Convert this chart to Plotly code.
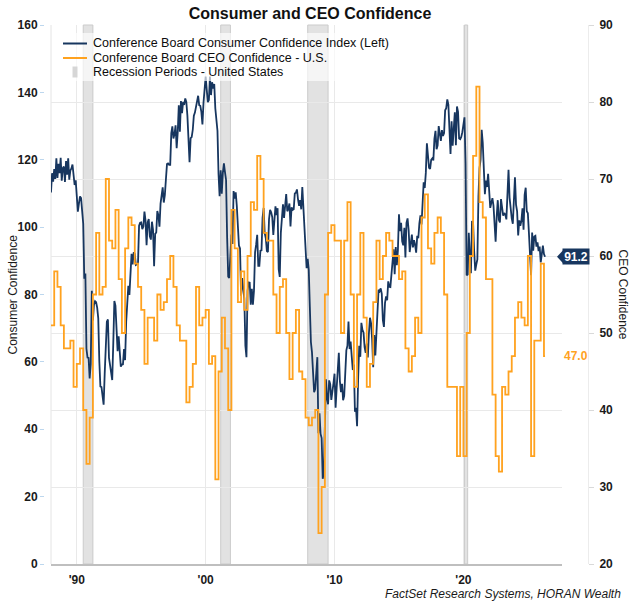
import plotly.graph_objects as go

# ---------------- data ----------------
cc_start_year = 1988  # monthly series starts Jan 1988
consumer_confidence = [
    110.3, 116.0, 113.5, 117.2, 114.3, 120.4, 114.6, 118.8, 116.0, 120.6, 113.8, 117.5,  # 1988
    118.0, 113.4, 119.6, 115.6, 120.4, 114.1, 116.8, 117.4, 118.6, 115.5, 112.5, 113.9,  # 1989
    106.8, 104.6, 107.0, 109.1, 108.6, 102.8, 101.0, 84.7, 86.2, 63.9, 61.3, 61.2,        # 1990
    55.1, 59.4, 81.1, 72.3, 77.0, 78.0, 77.7, 76.1, 72.9, 60.1, 52.7, 52.5,              # 1991
    50.2, 47.3, 56.5, 65.1, 71.9, 72.6, 61.2, 59.0, 57.3, 54.6, 65.6, 78.1,              # 1992
    76.7, 68.5, 63.2, 67.6, 61.9, 58.6, 59.2, 59.3, 63.8, 60.5, 71.9, 79.8,              # 1993
    82.6, 79.9, 86.7, 92.1, 88.9, 92.5, 92.1, 88.8, 89.0, 89.1, 100.4, 101.3,            # 1994
    101.4, 99.4, 100.2, 104.6, 102.0, 94.6, 101.4, 102.4, 97.3, 96.3, 101.6, 99.2,       # 1995
    88.4, 98.0, 98.4, 104.8, 103.5, 100.1, 107.0, 109.4, 111.8, 107.3, 109.5, 114.2,     # 1996
    118.7, 118.9, 118.5, 118.5, 127.9, 129.9, 126.3, 127.6, 130.2, 123.4, 128.1, 136.2,  # 1997
    128.3, 137.4, 133.8, 137.2, 136.3, 138.2, 137.2, 133.1, 126.4, 119.3, 126.4, 126.7,  # 1998
    128.9, 133.1, 134.0, 135.5, 137.7, 139.0, 136.2, 136.0, 134.2, 130.5, 137.0, 141.7,  # 1999
    144.7, 140.8, 137.1, 137.7, 144.7, 139.2, 143.0, 141.1, 142.5, 135.2, 132.6, 128.6,  # 2000
    115.7, 109.2, 116.9, 109.9, 116.1, 118.9, 116.3, 114.0, 97.0, 85.3, 84.9, 94.6,      # 2001
    97.8, 95.0, 110.7, 108.5, 110.3, 106.3, 97.4, 94.5, 93.7, 79.6, 84.9, 80.7,          # 2002
    78.8, 64.8, 61.4, 81.0, 83.6, 83.5, 77.0, 81.7, 77.0, 81.1, 92.5, 94.8,              # 2003
    97.7, 88.5, 88.5, 93.0, 93.1, 102.8, 105.7, 98.2, 96.7, 92.9, 92.6, 102.3,           # 2004
    105.1, 104.4, 103.0, 97.7, 103.1, 106.2, 103.6, 105.6, 87.5, 85.2, 98.3, 103.6,      # 2005
    106.8, 102.7, 107.2, 109.8, 104.7, 105.4, 107.0, 100.2, 105.9, 105.1, 105.3, 110.0,  # 2006
    110.2, 111.2, 108.2, 106.3, 108.0, 105.3, 111.9, 105.6, 99.5, 95.2, 87.8, 90.6,      # 2007
    87.3, 76.4, 65.9, 62.8, 58.1, 51.0, 51.9, 58.5, 61.4, 38.8, 44.7, 38.6,              # 2008
    37.4, 25.3, 26.9, 40.8, 54.8, 49.3, 47.4, 54.5, 53.4, 48.7, 50.6, 53.6,              # 2009
    56.5, 46.4, 52.3, 57.7, 62.7, 54.3, 51.0, 53.5, 48.6, 49.9, 57.8, 63.4,              # 2010
    64.8, 72.0, 63.8, 66.0, 61.7, 57.6, 59.2, 45.2, 46.4, 40.9, 55.2, 64.8,              # 2011
    61.5, 71.6, 69.5, 68.7, 64.4, 62.7, 65.4, 61.3, 68.4, 73.1, 71.5, 66.7,              # 2012
    58.4, 68.0, 61.9, 68.1, 76.2, 81.4, 81.0, 81.8, 80.2, 72.4, 70.4, 77.5,              # 2013
    79.4, 78.3, 83.9, 82.3, 82.2, 86.4, 90.3, 93.4, 86.0, 94.1, 88.7, 93.1,              # 2014
    103.8, 98.8, 101.3, 95.8, 94.6, 99.8, 91.0, 101.3, 102.6, 99.1, 92.6, 96.3,          # 2015
    97.8, 94.0, 96.1, 94.7, 92.4, 97.4, 96.7, 101.1, 103.5, 100.8, 109.4, 113.3,         # 2016
    111.6, 116.1, 124.9, 119.4, 117.6, 117.3, 120.0, 120.4, 119.8, 126.2, 128.6, 123.1,  # 2017
    124.3, 130.0, 127.0, 125.6, 128.8, 127.1, 127.9, 134.7, 135.3, 137.9, 136.4, 126.6,  # 2018
    121.7, 131.4, 124.2, 129.2, 134.1, 124.3, 135.8, 134.2, 126.3, 126.1, 126.8, 128.2,  # 2019
    130.4, 132.6, 118.8, 85.7, 85.9, 98.3, 91.7, 86.3, 101.8, 101.4, 92.9, 87.1,         # 2020
    88.9, 90.4, 109.0, 117.5, 120.0, 128.9, 125.1, 115.2, 109.8, 113.8, 111.9, 115.8,    # 2021
    111.1, 105.7, 107.2, 108.6, 106.4, 98.4, 95.7, 103.2, 108.0, 102.2, 101.4, 108.3,    # 2022
    106.0, 103.4, 104.2, 103.7, 102.3, 110.1, 117.0, 108.7, 104.3, 102.6, 101.0, 108.0,  # 2023
    114.8, 106.7, 104.7, 97.5, 102.0, 100.4, 101.9, 105.6, 99.2, 109.6, 111.7, 104.7,    # 2024
    104.1, 98.3, 92.9, 85.7, 98.4, 93.0, 97.2, 97.4, 94.2, 95.5, 92.9, 94.2,             # 2025
    89.5, 91.5, 94.5, 92.0, 91.2,                                                         # 2026
]

ceo_start_year = 1988  # quarterly series starts 1988 Q1
ceo_confidence = [
    51, 58, 56, 51,  48, 48, 49, 43,  46, 48, 40, 33,  39, 55, 63, 55,   # 1988-1991
    56, 70, 62, 61,  66, 57, 50, 61,  65, 64, 59, 56,  53, 46, 52, 52,   # 1992-1995
    49, 55, 53, 54,  57, 60, 56, 51,  49, 49, 41, 43,  46, 56, 51, 52,   # 1996-1999
    53, 46, 47, 31,  45, 52, 48, 40,  66, 61, 54, 58,  53, 60, 67, 66,   # 2000-2003
    73, 70, 63, 62,  62, 55, 50, 56,  57, 50, 44, 50,  53, 45, 44, 39,   # 2004-2007
    38, 39, 40, 24,  30, 55, 63, 64,  62, 62, 50, 62,  67, 55, 43, 55,   # 2008-2011
    63, 52, 43, 46,  54, 62, 57, 60,  63, 62, 60, 60,  57, 58, 48, 45,   # 2012-2015
    47, 52, 50, 65,  68, 61, 59, 63,  65, 63, 55, 43,  43, 43, 34, 43,   # 2016-2019
    34, 50, 60, 73,  82, 67, 65, 57,  57, 42, 34, 32,  43, 42, 45, 47,   # 2020-2023
    52, 54, 52, 51,  60, 34, 49, 49,  59, 47.0,                          # 2024-2026
]

recession_start = [1990.5, 2001.17, 2007.92, 2020.08]
recession_end = [1991.25, 2001.92, 2009.5, 2020.33]

xtick_vals = [1990, 2000, 2010, 2020]
xtick_text = ["'90", "'00", "'10", "'20"]
left_ticks = list(range(0, 161, 20))
right_ticks = list(range(20, 91, 10))

series_names = [
    "Conference Board Consumer Confidence Index (Left)",
    "Conference Board CEO Confidence - U.S.",
    "Recession Periods - United States",
]
title_text = "Consumer and CEO Confidence"
source_text = "FactSet Research Systems, HORAN Wealth"

# ---------------- styling ----------------
NAVY = "#17365f"
ORANGE = "#ffa21f"
BAND = "#e2e2e2"
GRID = "#e9e9e9"
TXT = "#1a1a1a"
FONT = "Liberation Sans"

W, H = 632, 608
ML, MR, MT, MB = 44, 44, 25, 44
PW = W - ML - MR
PH = H - MT - MB


def px_x(px):
    return (px - ML) / PW


def px_y(py):
    return (H - MB - py) / PH


cc_x = [cc_start_year + i / 12 for i in range(len(consumer_confidence))]
ceo_x = [ceo_start_year + i / 4 for i in range(len(ceo_confidence))]
# extend the last quarterly value to the end of the monthly series
ceo_x_plot = ceo_x + [cc_x[-1]]
ceo_y_plot = ceo_confidence + [ceo_confidence[-1]]

fig = go.Figure()
fig.add_trace(go.Scatter(
    x=cc_x, y=consumer_confidence, mode="lines", name=series_names[0],
    line=dict(color=NAVY, width=1.8), yaxis="y", showlegend=False,
))
fig.add_trace(go.Scatter(
    x=ceo_x_plot, y=ceo_y_plot, mode="lines", name=series_names[1],
    line=dict(color=ORANGE, width=1.8, shape="hv"), yaxis="y2", showlegend=False,
))

shapes = []
for s, e in zip(recession_start, recession_end):
    shapes.append(dict(type="rect", xref="x", yref="y domain", x0=s, x1=e, y0=0, y1=1,
                       fillcolor=BAND, line=dict(color="#cbcbcb", width=1), layer="below"))
# left plot border
shapes.append(dict(type="line", xref="x domain", yref="y domain", x0=0, x1=0, y0=0, y1=1,
                   line=dict(color="#e4e4e4", width=1), layer="below"))

# custom legend (background + symbols)
shapes.append(dict(type="rect", xref="paper", yref="paper", x0=px_x(58), x1=px_x(394),
                   y0=px_y(81), y1=px_y(33), fillcolor="rgba(255,255,255,0.65)",
                   line=dict(width=0), layer="above"))
shapes.append(dict(type="line", xref="paper", yref="paper", x0=px_x(63), x1=px_x(87),
                   y0=px_y(43.5), y1=px_y(43.5), line=dict(color=NAVY, width=2), layer="above"))
shapes.append(dict(type="line", xref="paper", yref="paper", x0=px_x(63), x1=px_x(87),
                   y0=px_y(58), y1=px_y(58), line=dict(color=ORANGE, width=2), layer="above"))
shapes.append(dict(type="rect", xref="paper", yref="paper", x0=px_x(72.5), x1=px_x(77.5),
                   y0=px_y(77.5), y1=px_y(66.5), fillcolor="#d6d6d6", line=dict(width=0),
                   layer="above"))

# end-value tag arrow for consumer confidence
shapes.append(dict(type="path", xref="paper", yref="y", xsizemode="pixel", ysizemode="pixel",
                   xanchor=px_x(564), yanchor=consumer_confidence[-1],
                   path="M 0 -7.5 L -7 0 L 0 7.5 Z", fillcolor=NAVY, line=dict(width=0),
                   layer="above"))

annotations = []
for i, (name, yy) in enumerate(zip(series_names, [43.5, 58, 72])):
    annotations.append(dict(text=name, xref="paper", yref="paper", x=px_x(91), y=px_y(yy),
                            xanchor="left", yanchor="middle", showarrow=False,
                            font=dict(family=FONT, size=12.5, color="#0d0d0d")))

annotations.append(dict(text="<b>%.1f</b>" % consumer_confidence[-1], xref="paper", yref="y",
                        x=px_x(576), y=consumer_confidence[-1], xanchor="center",
                        yanchor="middle", showarrow=False, bgcolor=NAVY, width=24, height=13,
                        borderpad=1, font=dict(family=FONT, size=12, color="white")))
annotations.append(dict(text="<b>%.1f</b>" % ceo_confidence[-1], xref="paper", yref="y2",
                        x=px_x(576), y=ceo_confidence[-1], xanchor="center",
                        yanchor="middle", showarrow=False,
                        font=dict(family=FONT, size=12, color=ORANGE)))
annotations.append(dict(text="Consumer Confidence", xref="paper", yref="paper",
                        x=px_x(12), y=0.5, textangle=-90, xanchor="center", yanchor="middle",
                        showarrow=False, font=dict(family=FONT, size=12, color=TXT)))
annotations.append(dict(text="CEO Confidence", xref="paper", yref="paper",
                        x=px_x(623), y=0.5, textangle=90, xanchor="center", yanchor="middle",
                        showarrow=False, font=dict(family=FONT, size=12, color=TXT)))
annotations.append(dict(text="<i>%s</i>" % source_text, xref="paper", yref="paper",
                        x=px_x(623), y=px_y(594), xanchor="right", yanchor="middle",
                        showarrow=False, font=dict(family=FONT, size=12, color=TXT)))

fig.update_layout(
    width=W, height=H,
    margin=dict(l=ML, r=MR, t=MT, b=MB),
    paper_bgcolor="white", plot_bgcolor="white",
    showlegend=False,
    title=dict(text="<b>%s</b>" % title_text, xref="container", yref="container",
               x=310 / W, y=1 - 13 / H, xanchor="center", yanchor="middle",
               font=dict(family=FONT, size=16, color="#111111")),
    xaxis=dict(range=[1988.0, 2027.65], domain=[px_x(51), px_x(562)],
               tickvals=xtick_vals, ticktext=xtick_text, showgrid=True, gridcolor=GRID,
               gridwidth=1, zeroline=False, showline=True, linecolor="#bfbfbf", linewidth=2,
               ticks="", ticklabelstandoff=4,
               tickfont=dict(family=FONT, size=12, color=TXT, weight="bold")),
    yaxis=dict(range=[0, 160], tickvals=left_ticks, anchor="free", position=0,
               showgrid=False, zeroline=False, showline=False, ticks="outside", ticklen=4,
               tickcolor="#bdd7ee", tickwidth=1,
               tickfont=dict(family=FONT, size=12, color=TXT, weight="bold")),
    yaxis2=dict(range=[20, 90], tickvals=right_ticks, overlaying="y", side="right",
                anchor="free", position=1, showgrid=True, gridcolor=GRID, gridwidth=1,
                zeroline=False, showline=True, linecolor="#ececec", ticks="outside",
                ticklen=5, tickcolor="#d9d9d9", ticklabelstandoff=3,
                tickfont=dict(family=FONT, size=12, color=TXT, weight="bold")),
    shapes=shapes,
    annotations=annotations,
)

fig.write_html("out.html")
